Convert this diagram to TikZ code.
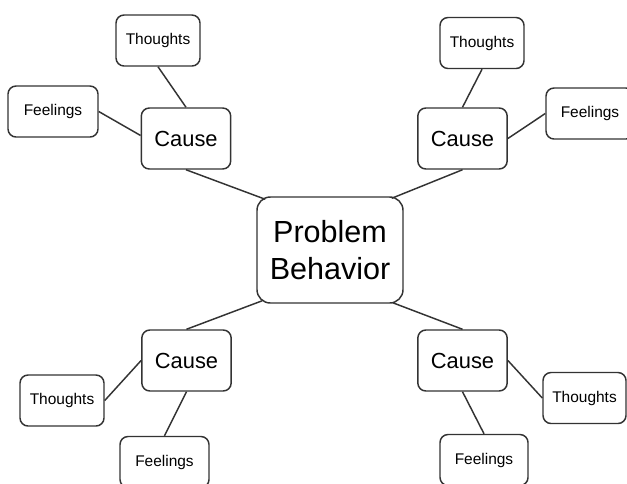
\documentclass[tikz,border=0pt]{standalone}
\usepackage{fontspec}
\setmainfont{Liberation Sans}
\usetikzlibrary{calc}
\definecolor{edge}{HTML}{333333}
\tikzset{
  box/.style={draw=edge, line width=1.1pt, rounded corners=6pt, inner sep=0pt, align=center, text=black},
  leaf/.style={box, minimum width=63pt, minimum height=38.25pt, font=\fontsize{11.6}{14}\selectfont},
  cause/.style={box, minimum width=67pt, minimum height=45.75pt, font=\fontsize{16.4}{19}\selectfont},
  hub/.style={box, rounded corners=10pt, minimum width=109.5pt, minimum height=79.5pt, font=\fontsize{22.9}{27.75}\selectfont},
  link/.style={draw=edge, line width=1.1pt}
}
\begin{document}
\begin{tikzpicture}[x=0.75pt, y=-0.75pt]
\useasboundingbox (0,0) rectangle (627,483);
\clip (0,0) rectangle (627,483);
\fill[white] (0,0) rectangle (627,483);
% hub
\node[hub] (pb) at (330,250) {Problem\\Behavior};
% top-left
\node[cause] (c1) at (186,138.5) {Cause};
\node[leaf] (t1) at (158,40.5) {Thoughts};
\node[leaf, minimum width=67.5pt] (f1) at (53,111.5) {Feelings};
% top-right
\node[cause] (c2) at (462.5,138.5) {Cause};
\node[leaf] (t2) at (482,43) {Thoughts};
\node[leaf, minimum width=66pt] (f2) at (590,113.5) {Feelings};
% bottom-left
\node[cause] (c3) at (186.5,360.5) {Cause};
\node[leaf] (t3) at (62,400.5) {Thoughts};
\node[leaf, minimum width=66.75pt] (f3) at (164.5,462) {Feelings};
% bottom-right
\node[cause] (c4) at (462.5,360.5) {Cause};
\node[leaf, minimum width=62.25pt] (t4) at (584.5,398) {Thoughts};
\node[leaf, minimum width=66pt] (f4) at (484,460) {Feelings};
% connectors
\draw[link] (t1.south) -- (c1.north);
\draw[link] (f1.east) -- ($(c1.west)+(0,-3)$);
\draw[link] (c1.south) -- ($(pb.north west)+(9,3)$);
\draw[link] (t2.south) -- (c2.north);
\draw[link] (c2.east) -- (f2.west);
\draw[link] (c2.south) -- ($(pb.north east)+(-12,2)$);
\draw[link] ($(pb.south west)+(6,-3)$) -- (c3.north);
\draw[link] (c3.west) -- (t3.east);
\draw[link] (c3.south) -- (f3.north);
\draw[link] ($(pb.south east)+(-11,-1)$) -- (c4.north);
\draw[link] (c4.east) -- (t4.west);
\draw[link] (c4.south) -- (f4.north);
\end{tikzpicture}
\end{document}
